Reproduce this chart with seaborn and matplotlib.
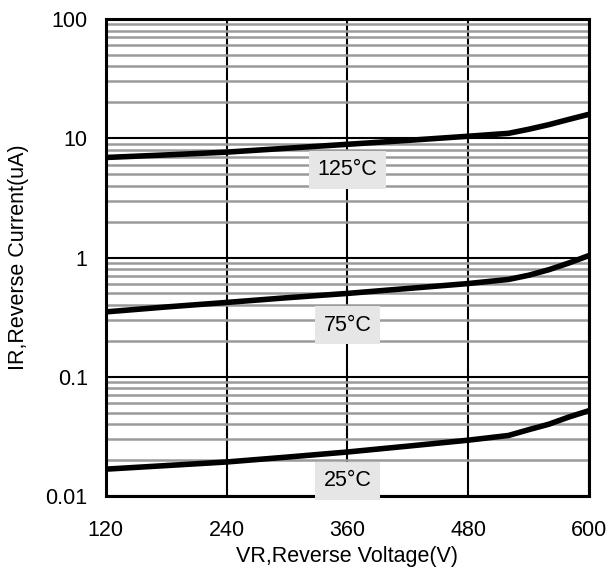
import matplotlib
matplotlib.use("Agg")
import matplotlib.pyplot as plt
import seaborn as sns
import pandas as pd
from matplotlib.ticker import FixedLocator, NullFormatter

# Reverse voltage (V)
voltage = [120, 180, 240, 300, 360, 420, 480, 520, 540, 560, 580, 600]

# Reverse current (uA) per junction temperature
ir_125 = [6.9, 7.25, 7.65, 8.25, 8.9, 9.6, 10.4, 11.0, 11.9, 13.0, 14.4, 15.9]
ir_75 = [0.35, 0.385, 0.42, 0.46, 0.50, 0.55, 0.605, 0.655, 0.71, 0.79, 0.90, 1.04]
ir_25 = [0.0168, 0.018, 0.0193, 0.0212, 0.0234, 0.0262, 0.0294, 0.0322, 0.036, 0.040, 0.046, 0.052]

temp_labels = ["125°C", "75°C", "25°C"]
label_y = [5.45, 0.27, 0.0134]

df = pd.concat([
    pd.DataFrame({"VR": voltage, "IR": ir_125, "T": "125°C"}),
    pd.DataFrame({"VR": voltage, "IR": ir_75, "T": "75°C"}),
    pd.DataFrame({"VR": voltage, "IR": ir_25, "T": "25°C"}),
])

sns.set_style("white")
plt.rcParams['font.family'] = ['Liberation Sans', 'DejaVu Sans']
plt.rcParams['text.color'] = 'black'
plt.rcParams['axes.labelcolor'] = 'black'
FS = 15.5

fig = plt.figure(figsize=(6.13, 5.71), dpi=100)
ax = fig.add_axes([0.1725, 0.1313, 0.7885, 0.8354])

ax.set_yscale("log")
ax.set_xlim(120, 600)
ax.set_ylim(0.01, 100)

# grid: gray minor lines, black major lines
minor = [m * 10.0 ** d for d in range(-2, 2) for m in range(2, 10)]
ax.yaxis.set_minor_locator(FixedLocator(minor))
ax.yaxis.set_minor_formatter(NullFormatter())
ax.grid(which="minor", axis="y", color="#9a9a9a", linewidth=1.8)
ax.grid(which="major", axis="both", color="black", linewidth=1.5)
ax.set_axisbelow(True)

sns.lineplot(data=df, x="VR", y="IR", hue="T", palette=["black"] * 3,
             linewidth=4, legend=False, ax=ax, zorder=3)

ax.set_xticks([120, 240, 360, 480, 600])
ax.set_yticks([0.01, 0.1, 1, 10, 100])
ax.set_yticklabels(["0.01", "0.1", "1", "10", "100"])
ax.tick_params(axis="both", which="both", length=0, labelsize=FS, colors="black")
ax.tick_params(axis="x", pad=17)
ax.tick_params(axis="y", pad=13)

for s in ax.spines.values():
    s.set_visible(True)
    s.set_color("black")
    s.set_linewidth(2.2)

for lab, yv in zip(temp_labels, label_y):
    ax.text(360, yv, lab, ha="center", va="center", fontsize=FS, color="black", zorder=4,
            bbox=dict(boxstyle="square,pad=0.4", facecolor="#e6e6e6", edgecolor="none"))

ax.set_xlabel("VR,Reverse Voltage(V)", fontsize=FS)
ax.set_ylabel("IR,Reverse Current(uA)", fontsize=FS)
ax.xaxis.label.set_va("center")
ax.yaxis.label.set_va("center")
ax.xaxis.set_label_coords(0.5, -0.126)
ax.yaxis.set_label_coords(-0.181, 0.5)

fig.savefig("out.png", dpi=100)
